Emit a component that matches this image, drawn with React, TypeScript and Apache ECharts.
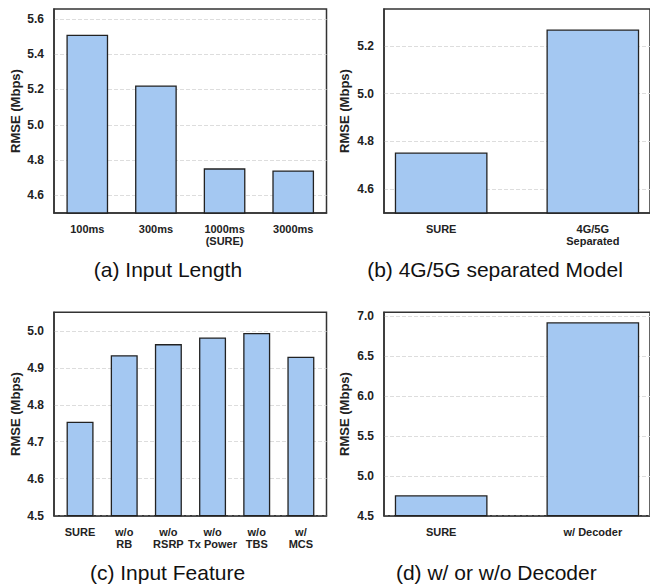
import React, { useEffect, useRef } from "react";
import * as echarts from "echarts";

// ---- data ----
const lengthCats = ["100ms", "300ms", "1000ms\n(SURE)", "3000ms"];
const lengthRmse = [5.51, 5.223, 4.753, 4.741];
const lengthTicks = [4.6, 4.8, 5.0, 5.2, 5.4, 5.6];

const modelCats = ["SURE", "4G/5G\nSeparated"];
const modelRmse = [4.753, 5.268];
const modelTicks = [4.6, 4.8, 5.0, 5.2];

const featureCats = ["SURE", "w/o\nRB", "w/o\nRSRP", "w/o\nTx Power", "w/o\nTBS", "w/\nMCS"];
const featureRmse = [4.754, 4.934, 4.964, 4.982, 4.994, 4.93];
const featureTicks = [4.5, 4.6, 4.7, 4.8, 4.9, 5.0];

const decoderCats = ["SURE", "w/ Decoder"];
const decoderRmse = [4.756, 6.925];
const decoderTicks = [4.5, 5.0, 5.5, 6.0, 6.5, 7.0];

const panelTitles = [
  "(a) Input Length",
  "(b) 4G/5G separated Model",
  "(c) Input Feature",
  "(d) w/ or w/o Decoder",
];

const FONT = "'Liberation Sans', Arial, Helvetica, sans-serif";
const BAR_FILL = "#a4c8f2";
const BAR_EDGE = "#222";
const FRAME = "#333";

type Panel = {
  cats: string[];
  vals: number[];
  ticks: number[];
  yMin: number;
  yMax: number;
  xMin: number;
  xMax: number;
  barWidth: number;
  grid: { left: number; top: number; right: number; bottom: number };
  nameGap: number;
};

const panels: Panel[] = [
  {
    cats: lengthCats, vals: lengthRmse, ticks: lengthTicks,
    yMin: 4.5, yMax: 5.656, xMin: -0.485, xMax: 3.485, barWidth: 41.7,
    grid: { left: 54, top: 9, right: 650 - 326.5, bottom: 585 - 213 },
    nameGap: 32,
  },
  {
    cats: modelCats, vals: modelRmse, ticks: modelTicks,
    yMin: 4.5, yMax: 5.354, xMin: -0.377, xMax: 1.377, barWidth: 92.7,
    grid: { left: 384, top: 9, right: -3.7, bottom: 585 - 213 },
    nameGap: 33,
  },
  {
    cats: featureCats, vals: featureRmse, ticks: featureTicks,
    yMin: 4.5, yMax: 5.05, xMin: -0.59, xMax: 5.58, barWidth: 27,
    grid: { left: 54, top: 312.3, right: 650 - 326.5, bottom: 585 - 515.7 },
    nameGap: 32,
  },
  {
    cats: decoderCats, vals: decoderRmse, ticks: decoderTicks,
    yMin: 4.5, yMax: 7.05, xMin: -0.377, xMax: 1.377, barWidth: 92.7,
    grid: { left: 384, top: 312.3, right: -3.7, bottom: 585 - 515.7 },
    nameGap: 33,
  },
];

const titlePos = [
  [168, 269.5],
  [495, 269.5],
  [167.5, 572.5],
  [496.3, 572.5],
];

export default function App() {
  const ref = useRef<HTMLDivElement>(null);

  useEffect(() => {
    if (!ref.current) return;
    const chart = echarts.init(ref.current, undefined, { renderer: "svg" });

    const grids = panels.map((p) => ({
      ...p.grid,
      show: true,
      borderColor: FRAME,
      borderWidth: 1.5,
      backgroundColor: "transparent",
      containLabel: false,
    }));

    const xAxes = panels.map((p, i) => ({
      type: "value",
      gridIndex: i,
      min: p.xMin,
      max: p.xMax,
      axisLine: { show: true, onZero: false, lineStyle: { color: FRAME, width: 1.5 } },
      axisTick: { show: false },
      splitLine: { show: false },
      axisLabel: {
        customValues: p.cats.map((_, k) => k),
        formatter: (v: number) => p.cats[Math.round(v)] ?? "",
        fontFamily: FONT,
        fontWeight: "bold",
        fontSize: 11,
        lineHeight: 12,
        color: "#222",
        margin: 10,
      },
    }));

    const yAxes = panels.map((p, i) => ({
      type: "value",
      gridIndex: i,
      min: p.yMin,
      max: p.yMax,
      name: "RMSE (Mbps)",
      nameLocation: "middle",
      nameGap: p.nameGap,
      nameTextStyle: { fontFamily: FONT, fontWeight: "bold", fontSize: 13, color: "#222" },
      axisLine: { show: true, onZero: false, lineStyle: { color: FRAME, width: 1.5 } },
      axisTick: { show: false, customValues: p.ticks },
      splitLine: { show: true, lineStyle: { color: "#dddddd", type: "dashed", width: 1 } },
      axisLabel: {
        customValues: p.ticks,
        formatter: (v: number) => v.toFixed(1),
        fontFamily: FONT,
        fontWeight: "bold",
        fontSize: 12,
        color: "#222",
        margin: 10,
      },
    }));

    const series = panels.map((p, i) => ({
      type: "bar",
      xAxisIndex: i,
      yAxisIndex: i,
      barWidth: p.barWidth,
      data: p.vals.map((v, k) => [k, v]),
      itemStyle: { color: BAR_FILL, borderColor: BAR_EDGE, borderWidth: 1.3 },
      silent: true,
    }));

    const graphics = panelTitles.map((t, i) => ({
      type: "text",
      x: titlePos[i][0],
      y: titlePos[i][1],
      style: {
        text: t,
        textAlign: "center",
        textVerticalAlign: "middle",
        font: `21px ${FONT}`,
        fill: "#111",
      },
    }));

    chart.setOption({
      animation: false,
      backgroundColor: "#fff",
      grid: grids,
      xAxis: xAxes,
      yAxis: yAxes,
      series,
      graphic: graphics,
    } as any);

    return () => chart.dispose();
  }, []);

  return (
    <div
      ref={ref}
      style={{ position: "fixed", left: 0, top: 0, width: 650, height: 585 }}
    />
  );
}
